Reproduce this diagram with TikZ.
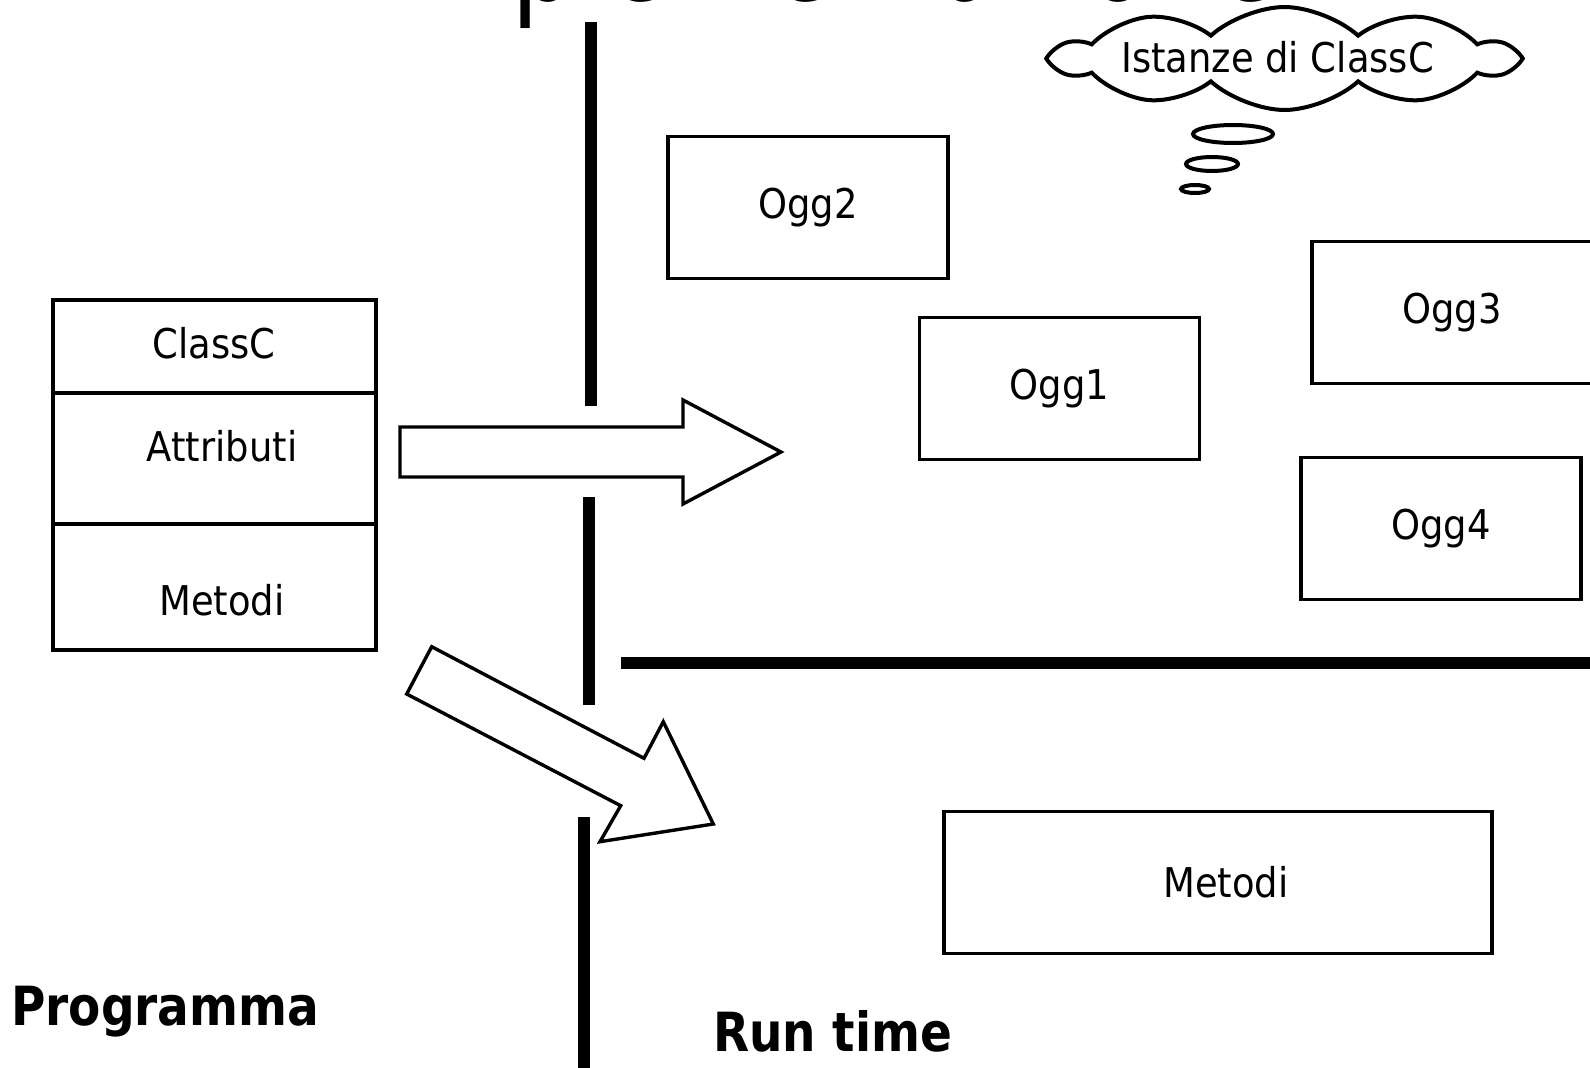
\documentclass[tikz,border=0pt]{standalone}
\usepackage{fontspec}
\setmainfont{DejaVu Sans}[FakeStretch=0.9]
\newfontfamily\headfont{DejaVu Sans}[FakeStretch=0.87]
\newfontfamily\titlefont{DejaVu Sans}[FakeStretch=0.766]
\usetikzlibrary{shapes.symbols}

\begin{document}
\begin{tikzpicture}[x=1pt,y=-1pt,
  txt/.style={font=\fontsize{41}{48}\selectfont, inner sep=0pt},
  obj/.style={draw, line width=3.2pt, minimum width=280pt, minimum height=142pt,
    inner sep=0pt, font=\fontsize{41}{48}\selectfont},
  classpart/.style={draw, line width=3.2pt, minimum width=323pt, inner sep=0pt},
  divider/.style={line width=11.5pt},
  blockarrow/.style={draw, line width=3.4pt, fill=white, line join=miter},
  bubble/.style={draw, line width=4pt},
  heading/.style={font=\headfont\bfseries\fontsize{54}{60}\selectfont, inner sep=0pt, anchor=base west}]

\useasboundingbox (0,0) rectangle (1590,1068);
\clip (0,0) rectangle (1590,1068);
\fill[white] (0,0) rectangle (1590,1068);

% title running off the top edge
\node[anchor=base west, inner sep=0pt, font=\titlefont\fontsize{135}{150}\selectfont]
  (title) at (360,1) {Im\kern20pt plementazione};

% separators between program side and run-time side
\draw[divider] (591,22) -- (591,406);
\draw[divider] (589,497) -- (589,705);
\draw[divider] (584,817) -- (584,1075);
\draw[divider] (621,663) -- (1600,663);

% class box
\node[classpart, minimum height=93pt] (cname) at (214.5,346.5) {};
\node[classpart, minimum height=131pt] (cattr) at (214.5,458.5) {};
\node[classpart, minimum height=126pt] (cmeth) at (214.5,587) {};
\node[txt] (cnametxt) at (214,343) {ClassC};
\node[txt] (cattrtxt) at (222,446) {Attributi};
\node[txt] (cmethtxt) at (222,600) {Metodi};

% block arrows
\draw[blockarrow] (400,427) -- (683,427) -- (683,400) -- (781,452)
  -- (683,504) -- (683,477) -- (400,477) -- cycle;
\draw[blockarrow] (431.7,646.7) -- (644,758.3) -- (663.3,721.7) -- (713.3,824)
  -- (600,841.7) -- (620.7,805.7) -- (406.7,694) -- cycle;

% objects at run time
\node[obj] (ogg2) at (808,207.5) {Ogg2};
\node[obj] (ogg1) at (1059.5,388.5) {Ogg1};
\node[obj] (ogg3) at (1452,312.5) {Ogg3};
\node[obj] (ogg4) at (1441,528.5) {Ogg4};
\node[obj, minimum width=548pt] (rtmeth) at (1218,882.5) {};
\node[txt] (rtmethtxt) at (1226,882) {Metodi};

% thought cloud
\node[bubble, cloud, cloud puffs=10, cloud puff arc=85, aspect=4.4,
  minimum width=459pt, minimum height=103pt, inner sep=0pt] (cloud) at (1284.5,58.5) {};
\node[txt, anchor=base west] (cloudtxt) at (1121,72) {Istanze di ClassC};
\draw[bubble] (1233,134) ellipse [x radius=40, y radius=9];
\draw[bubble] (1212,164) ellipse [x radius=26, y radius=7];
\draw[bubble] (1195,189) ellipse [x radius=14, y radius=4];

% side labels
\node[heading] (prog) at (11,1025) {Programma};
\node[heading] (runtime) at (713,1051) {Run time};
\end{tikzpicture}
\end{document}
